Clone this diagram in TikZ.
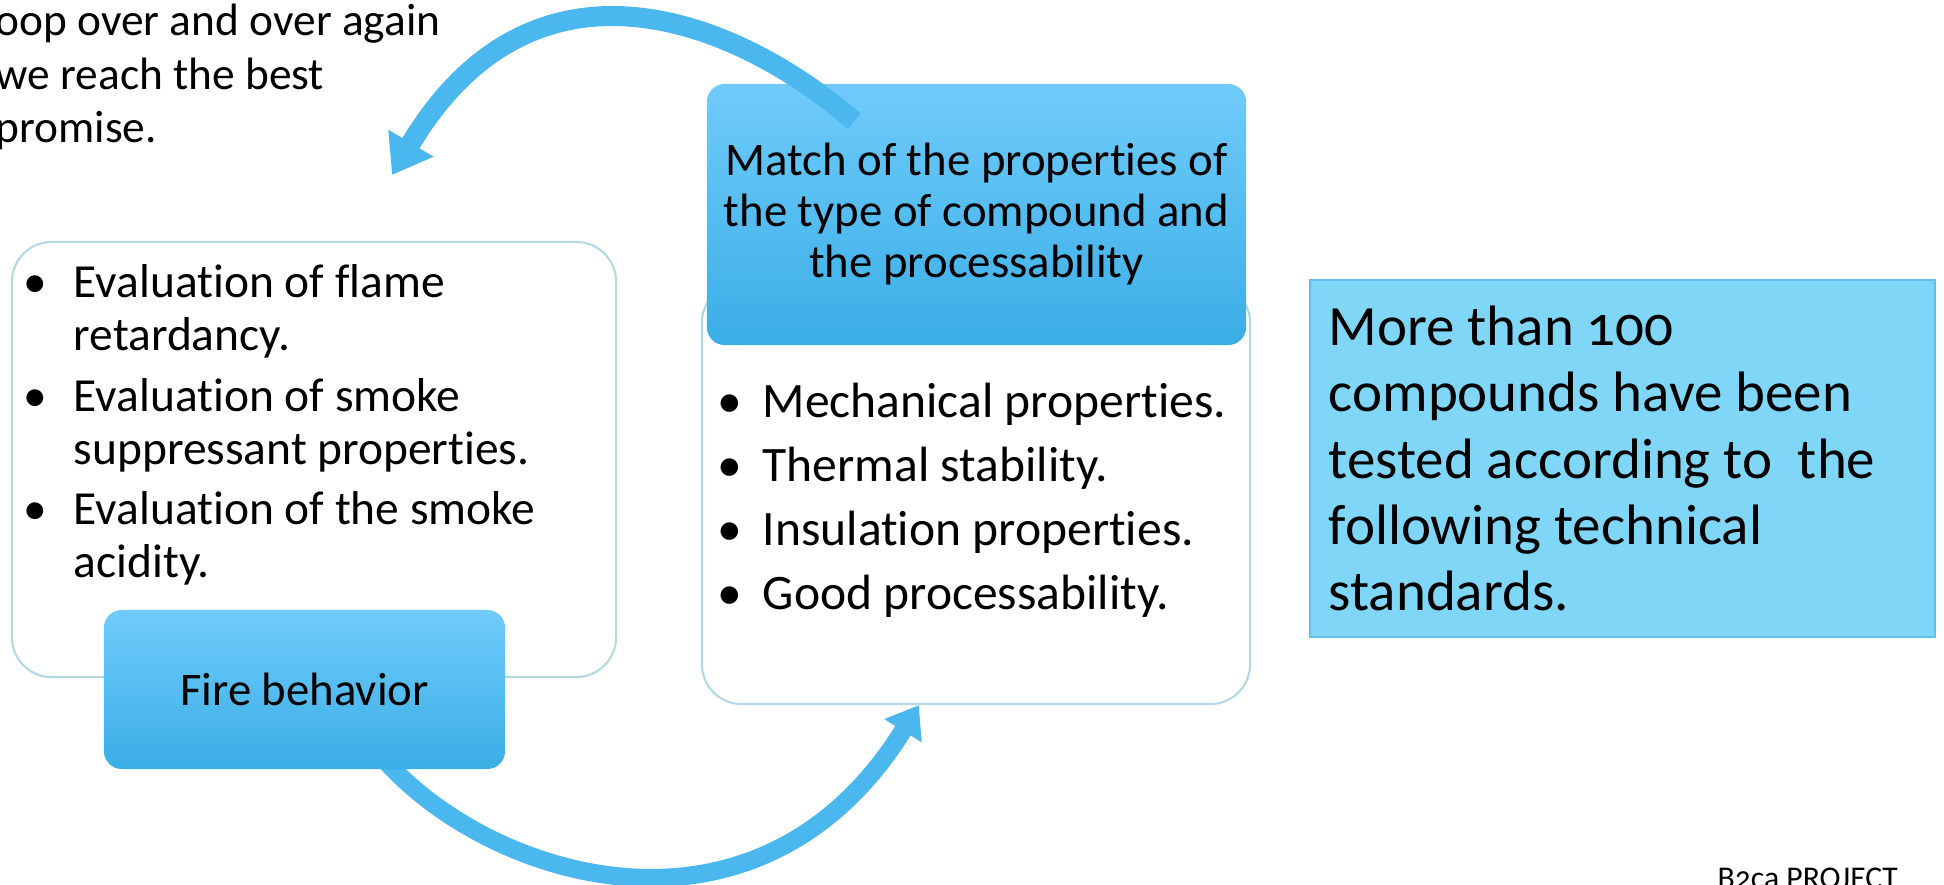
\documentclass[tikz,border=0pt]{standalone}
\usepackage{fontspec}
\setmainfont{Carlito}[Numbers=OldStyle, Ligatures=CommonOff]
\usepackage{enumitem}
\usetikzlibrary{arrows.meta,positioning,calc,backgrounds}

\definecolor{arrowblue}{RGB}{74,183,238}
\definecolor{boxtop}{RGB}{112,203,251}
\definecolor{boxbottom}{RGB}{58,174,230}
\definecolor{outline}{RGB}{178,218,228}
\definecolor{notefill}{RGB}{128,214,247}
\definecolor{noteline}{RGB}{95,192,238}

% plain word spaces inside boxes of fixed width
\newcommand{\plainspaces}{\spaceskip=0pt \xspaceskip=0pt\relax}

\tikzset{
  outlinebox/.style={draw=outline, line width=0.6pt, fill=white, rounded corners=0.4cm},
  headbox/.style={rounded corners=0.18cm, top color=boxtop, bottom color=boxbottom,
    align=center, font=\fontsize{13.3}{14.5}\selectfont},
  notebox/.style={fill=notefill, draw=noteline, line width=0.5pt, text width=5.87cm,
    align=left, inner sep=0.19cm, font=\fontsize{16.2}{18.8}\selectfont},
  looparrow/.style={draw=arrowblue, line width=0.2cm},
}

\begin{document}
\begin{tikzpicture}[x=0.01cm,y=-0.01cm]
  \useasboundingbox (0,0) rectangle (1944,884);
  \clip (0,0) rectangle (1944,884);

  % Note at the top left
  \node[anchor=north west, align=left, inner sep=0, font=\fontsize{12.9}{15.3}\selectfont] (loopNote) at (-5,3)
    {oop over and over again\\we reach the best\\promise.};

  % Fire behavior
  \node[outlinebox, minimum width=6.04cm, minimum height=4.35cm] (fireFrame) at (314,459.5) {};
  \node[anchor=north west, inner sep=0, text width=5.6cm, align=left, font=\fontsize{13.5}{15.1}\selectfont] (fireList) at (30,244)
    {\plainspaces
    \begin{itemize}[leftmargin=0.43cm, labelsep=0.27cm, topsep=0pt, partopsep=0pt, parsep=0pt, itemsep=2pt]
      \item Evaluation of flame\newline retardancy.
      \item Evaluation of smoke\newline suppressant properties.
      \item Evaluation of the smoke\newline acidity.
    \end{itemize}};
  \node[headbox, minimum width=4.01cm, minimum height=1.59cm] (fireBox) at (304.5,689.5) {Fire behavior};

  % Properties
  \node[outlinebox, minimum width=5.48cm, minimum height=4.21cm] (propsFrame) at (976,493.5) {};
  \node[anchor=north west, inner sep=0, text width=5.15cm, align=left, font=\fontsize{14.1}{18.2}\selectfont] (propsList) at (725,353)
    {\plainspaces
    \begin{itemize}[leftmargin=0.37cm, labelsep=0.21cm, topsep=0pt, partopsep=0pt, parsep=0pt, itemsep=0pt]
      \item Mechanical properties.
      \item Thermal stability.
      \item Insulation properties.
      \item Good processability.
    \end{itemize}};
  \node[headbox, minimum width=5.39cm, minimum height=2.61cm] (matchBox) at (976.5,214.5)
    {Match of the properties of\\the type of compound and\\the processability};

  % Compounds tested
  \node[notebox, minimum width=6.25cm, minimum height=3.57cm] (countNote) at (1622.5,458.5)
    {\plainspaces More than 100\\compounds have been\\tested according to~ the\\following technical\\standards.};

  % Footer
  \node[anchor=base west, inner sep=0, font=\fontsize{9}{10}\selectfont] (footer) at (1717,888) {B2ca PROJECT};

  % Loop arrows
  \coordinate (matchTail) at ($(matchBox.north west)+(148,38)$);
  \coordinate (loopTip) at (392,175);
  \coordinate (fireTail) at ($(fireBox.south)+(80,-10)$);
  \coordinate (propsTip) at ($(propsFrame.south west)+(218,0)$);
  \draw[looparrow, -{Triangle[length=0.37cm,width=0.5cm]}] (matchTail) .. controls (740,22) and (535,-65) .. (loopTip);
  \begin{scope}[on background layer]
    \draw[looparrow, line width=0.18cm, -{Triangle[length=0.3cm,width=0.42cm]}] (fireTail) .. controls (491,880) and (759,963) .. (propsTip);
  \end{scope}
\end{tikzpicture}
\end{document}
